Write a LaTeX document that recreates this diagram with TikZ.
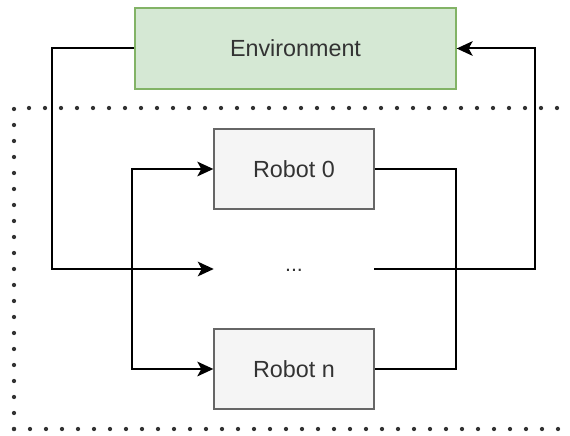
\documentclass[tikz,border=0pt]{standalone}
\usepackage{fontspec}
\setmainfont{Liberation Sans}
\usetikzlibrary{arrows.meta}
\definecolor{envfill}{HTML}{D5E8D4}
\definecolor{envdraw}{HTML}{82B366}
\definecolor{robfill}{HTML}{F5F5F5}
\definecolor{robdraw}{HTML}{666666}
\definecolor{txt}{HTML}{333333}
\begin{document}
\begin{tikzpicture}[x=0.75pt,y=-0.75pt,
  envbox/.style={draw=envdraw,fill=envfill,line width=1pt,minimum width=240.75pt,minimum height=60.75pt,inner sep=0pt,text=txt,font=\fontsize{17.5}{20}\selectfont},
  robbox/.style={draw=robdraw,fill=robfill,line width=1pt,minimum width=120pt,minimum height=60pt,inner sep=0pt,text=txt,font=\fontsize{17.5}{20}\selectfont},
  gapbox/.style={minimum width=120pt,minimum height=30pt,inner sep=0pt,text=txt,font=\fontsize{16}{18}\selectfont},
  conn/.style={line width=1.5pt,black},
  arr/.style={conn,-{Stealth[length=12pt,width=11pt,inset=3pt]}},
  darr/.style={conn,{Stealth[length=12pt,width=11pt,inset=3pt]}-{Stealth[length=12pt,width=11pt,inset=3pt]}},
  dotline/.style={line width=3.2pt,line cap=round,dash pattern=on 0pt off 12pt,black!80}
]
\useasboundingbox (0,0) rectangle (570,435);
\begin{scope}
\clip (0,0) rectangle (570,435);
\draw[dotline] (14,429) -- (14,108) -- (590,108);
\draw[dotline] (14,429) -- (590,429);
\end{scope}
\node[envbox] (env) at (295.5,48.5) {Environment};
\node[robbox] (r0) at (294,169) {Robot 0};
\node[robbox] (rn) at (294,369) {Robot n};
\node[gapbox] (gap) at (294,269) {\raisebox{-4pt}{...}};
\draw[arr] (env.west) -- ++(-82,0) |- (gap.west);
\draw[arr] (gap.east) -- ++(161,0) |- (env.east);
\draw[darr] (r0.west) -- ++(-81,0) |- (rn.west);
\draw[conn] (r0.east) -- ++(81,0) |- (rn.east);
\end{tikzpicture}
\end{document}
